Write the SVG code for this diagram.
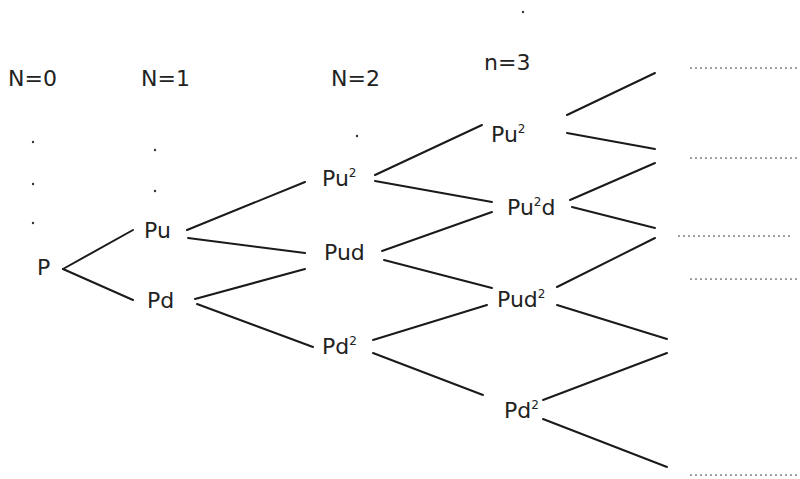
<svg xmlns="http://www.w3.org/2000/svg" width="800" height="479" viewBox="0 0 800 479">
<style>
text{font-family:"DejaVu Sans","Liberation Sans",sans-serif;font-size:22px;fill:#222}
.sup{font-size:12px}
.e{stroke:#1a1a1a;stroke-width:2;fill:none;stroke-linecap:round}
.dot{stroke:#444;stroke-width:1.7;stroke-dasharray:0 5;stroke-linecap:round;fill:none}
.pt{fill:#333}
</style>
<rect width="800" height="479" fill="#fff"/>
<g id="headers">
<text x="8" y="86">N=0</text>
<text x="141" y="86">N=1</text>
<text x="331" y="86">N=2</text>
<text x="484" y="70">n=3</text>
</g>
<g id="ellipsis">
<circle class="pt" cx="33" cy="142" r="1.2"/>
<circle class="pt" cx="33" cy="184" r="1.2"/>
<circle class="pt" cx="33" cy="223" r="1.2"/>
<circle class="pt" cx="155" cy="150" r="1.2"/>
<circle class="pt" cx="155" cy="191" r="1.2"/>
<circle class="pt" cx="357" cy="136" r="1.2"/>
<circle class="pt" cx="523" cy="12" r="1.2"/>
</g>
<g id="connectors">
<line class="e" x1="63" y1="269" x2="133" y2="230"/>
<line class="e" x1="63" y1="269" x2="133" y2="300"/>
<line class="e" x1="187" y1="230" x2="305" y2="182"/>
<line class="e" x1="188" y1="238" x2="305" y2="253"/>
<line class="e" x1="195" y1="299" x2="305" y2="269"/>
<line class="e" x1="197" y1="304" x2="313" y2="347"/>
<line class="e" x1="375" y1="175" x2="482" y2="125"/>
<line class="e" x1="375" y1="181" x2="492" y2="202"/>
<line class="e" x1="382" y1="251" x2="492" y2="212"/>
<line class="e" x1="384" y1="260" x2="492" y2="288"/>
<line class="e" x1="373" y1="340" x2="487" y2="305"/>
<line class="e" x1="373" y1="353" x2="483" y2="395"/>
<line class="e" x1="567" y1="115" x2="655" y2="73"/>
<line class="e" x1="567" y1="133" x2="655" y2="149"/>
<line class="e" x1="570" y1="200" x2="655" y2="163"/>
<line class="e" x1="572" y1="207" x2="655" y2="228"/>
<line class="e" x1="557" y1="287" x2="655" y2="238"/>
<line class="e" x1="557" y1="305" x2="667" y2="339"/>
<line class="e" x1="543" y1="400" x2="667" y2="353"/>
<line class="e" x1="543" y1="419" x2="667" y2="467"/>
<line class="dot" x1="691" y1="68" x2="800" y2="68"/>
<line class="dot" x1="691" y1="158" x2="800" y2="158"/>
<line class="dot" x1="679" y1="236" x2="794" y2="236"/>
<line class="dot" x1="691" y1="279" x2="800" y2="279"/>
<line class="dot" x1="691" y1="475" x2="800" y2="475"/>
</g>
<g id="P"><text x="37" y="275">P</text></g>
<g id="Pu"><text x="144" y="238">Pu</text></g>
<g id="Pd"><text x="147" y="308">Pd</text></g>
<g id="Pu2-2"><text x="322" y="186">Pu<tspan class="sup" dy="-9">2</tspan></text></g>
<g id="Pud"><text x="324" y="260">Pud</text></g>
<g id="Pd2-2"><text x="322" y="354">Pd<tspan class="sup" dy="-9">2</tspan></text></g>
<g id="Pu2-3"><text x="491" y="142">Pu<tspan class="sup" dy="-9">2</tspan></text></g>
<g id="Pu2d"><text x="507" y="215">Pu<tspan class="sup" dy="-9">2</tspan><tspan dy="9">d</tspan></text></g>
<g id="Pud2"><text x="497" y="307">Pud<tspan class="sup" dy="-9">2</tspan></text></g>
<g id="Pd2-3"><text x="504" y="418">Pd<tspan class="sup" dy="-9">2</tspan></text></g>
</svg>
